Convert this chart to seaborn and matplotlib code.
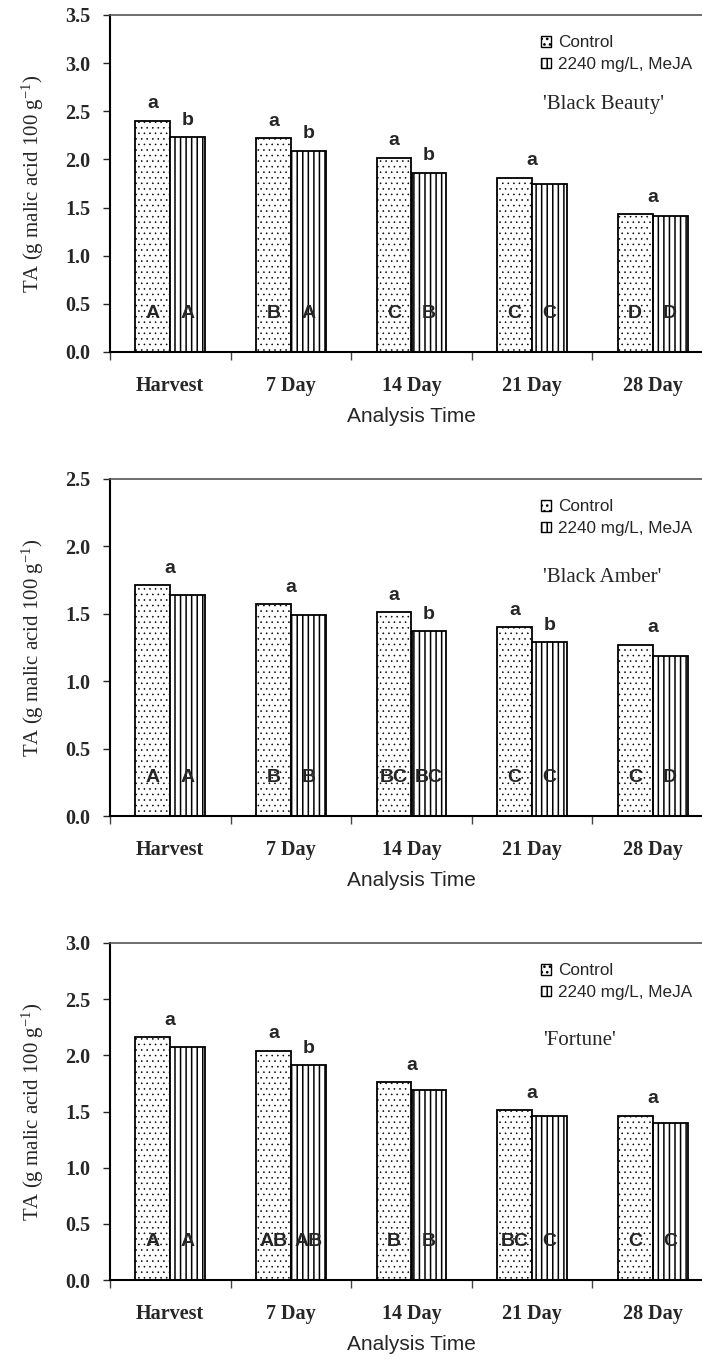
import numpy as np
import pandas as pd
import matplotlib
matplotlib.use("Agg")
import matplotlib.pyplot as plt
import seaborn as sns
from matplotlib.patches import Patch

times = ["Harvest", "7 Day", "14 Day", "21 Day", "28 Day"]
treatments = ["Control", "2240 mg/L, MeJA"]

# 'Black Beauty'
bb_control = [2.40, 2.22, 2.02, 1.81, 1.43]
bb_meja = [2.23, 2.09, 1.86, 1.74, 1.41]
bb_top = [["a", "b"], ["a", "b"], ["a", "b"], ["a"], ["a"]]
bb_bottom = [["A", "A"], ["B", "A"], ["C", "B"], ["C", "C"], ["D", "D"]]

# 'Black Amber'
ba_control = [1.71, 1.57, 1.51, 1.40, 1.27]
ba_meja = [1.64, 1.49, 1.37, 1.29, 1.19]
ba_top = [["a"], ["a"], ["a", "b"], ["a", "b"], ["a"]]
ba_bottom = [["A", "A"], ["B", "B"], ["BC", "BC"], ["C", "C"], ["C", "D"]]

# 'Fortune'
fo_control = [2.16, 2.04, 1.76, 1.51, 1.46]
fo_meja = [2.07, 1.91, 1.69, 1.46, 1.40]
fo_top = [["a"], ["a", "b"], ["a"], ["a"], ["a"]]
fo_bottom = [["A", "A"], ["AB", "AB"], ["B", "B"], ["BC", "C"], ["C", "C"]]

panels = [
    ("'Black Beauty'", bb_control, bb_meja, bb_top, bb_bottom, 3.5),
    ("'Black Amber'", ba_control, ba_meja, ba_top, ba_bottom, 2.5),
    ("'Fortune'", fo_control, fo_meja, fo_top, fo_bottom, 3.0),
]

sns.set_style("ticks")
plt.rcParams["hatch.linewidth"] = 1.1
plt.rcParams["mathtext.fontset"] = "stix"

W, H = 702, 1361
fig = plt.figure(figsize=(W / 100, H / 100), dpi=100)

hatches = ["...", "|||"]
hatch_lw = [0.4, 1.1]
bottoms_px = [352, 816, 1280]
serif = "Liberation Serif"
sans = "Liberation Sans"

for (name, ctrl, meja, top, bottom, ymax), b_px in zip(panels, bottoms_px):
    ax = fig.add_axes([110 / W, 1 - b_px / H, 603 / W, 337 / H])
    df = pd.DataFrame({
        "time": times * 2,
        "treatment": [treatments[0]] * 5 + [treatments[1]] * 5,
        "TA": ctrl + meja,
    })
    sns.barplot(data=df, x="time", y="TA", hue="treatment", order=times,
                hue_order=treatments, palette={treatments[0]: "white", treatments[1]: "white"},
                edgecolor="black", linewidth=1.3, width=0.58, legend=False, ax=ax)

    for cont, h, lw in zip(ax.containers, hatches, hatch_lw):
        for p in cont:
            p.set_hatch(h)
            if hasattr(p, "set_hatch_linewidth"):
                p.set_hatch_linewidth(lw)

    # letters
    for i in range(len(times)):
        pc = ax.containers[0][i]
        pm = ax.containers[1][i]
        xc = pc.get_x() + pc.get_width() / 2
        xm = pm.get_x() + pm.get_width() / 2
        if len(top[i]) == 2:
            ax.annotate(top[i][0], (xc, pc.get_height()), xytext=(0, 9), textcoords="offset points",
                        ha="center", va="baseline", fontsize=14, fontweight="bold", family=sans)
            ax.annotate(top[i][1], (xm, pm.get_height()), xytext=(0, 9), textcoords="offset points",
                        ha="center", va="baseline", fontsize=14, fontweight="bold", family=sans)
        else:
            ax.annotate(top[i][0], ((xc + xm) / 2, pc.get_height()), xytext=(0, 9),
                        textcoords="offset points", ha="center", va="baseline",
                        fontsize=14, fontweight="bold", family=sans)
        ax.annotate(bottom[i][0], (xc, 0), xytext=(0, 24.5), textcoords="offset points",
                    ha="center", va="baseline", fontsize=14, fontweight="bold", family=sans)
        ax.annotate(bottom[i][1], (xm, 0), xytext=(0, 24.5), textcoords="offset points",
                    ha="center", va="baseline", fontsize=14, fontweight="bold", family=sans)

    ax.set_xlim(-0.5, 4.5)
    ax.set_ylim(0, ymax)
    ax.set_yticks(np.arange(0, ymax + 0.01, 0.5))
    ax.set_yticklabels([f"{v:.1f}" for v in np.arange(0, ymax + 0.01, 0.5)],
                       family=serif, fontweight="bold", fontsize=14.5)
    ax.set_xticks(np.arange(-0.5, 4.6, 1))
    ax.set_xticklabels([])
    ax.set_xticks(np.arange(5), minor=True)
    ax.set_xticklabels(times, minor=True, family=serif, fontweight="bold", fontsize=14.5)
    ax.tick_params(axis="x", which="major", direction="out", length=6, width=1, color="#444444")
    ax.tick_params(axis="x", which="minor", length=0, pad=17)
    ax.tick_params(axis="y", direction="out", length=5, width=1, pad=9)

    ax.set_xlabel("Analysis Time", family=sans, fontsize=15, labelpad=8)
    ax.set_ylabel("TA (g malic acid 100 g$^{\\mathregular{-1}}$)", family=serif, fontsize=15,
                  labelpad=14)

    for s in ["left", "bottom"]:
        ax.spines[s].set_linewidth(1.5)
        ax.spines[s].set_color("black")
    ax.spines["top"].set_visible(True)
    ax.spines["top"].set_color("#555555")
    ax.spines["top"].set_linewidth(1.2)
    ax.spines["right"].set_visible(False)

    handles = [Patch(facecolor="white", edgecolor="black", hatch=h, linewidth=1) for h in hatches]
    ax.legend(handles, treatments, loc="upper left", bbox_to_anchor=(0.715, 0.94),
              frameon=False, prop={"family": sans, "size": 12.3}, handlelength=0.6,
              handleheight=0.6, handletextpad=0.4, labelspacing=0.4, borderpad=0,
              borderaxespad=0)
    ax.text(0.718, {3.5: 0.733, 2.5: 0.709, 3.0: 0.712}[ymax], name, transform=ax.transAxes,
            ha="left", va="center", family=serif, fontsize=15)

fig.savefig("out.png", dpi=100)
